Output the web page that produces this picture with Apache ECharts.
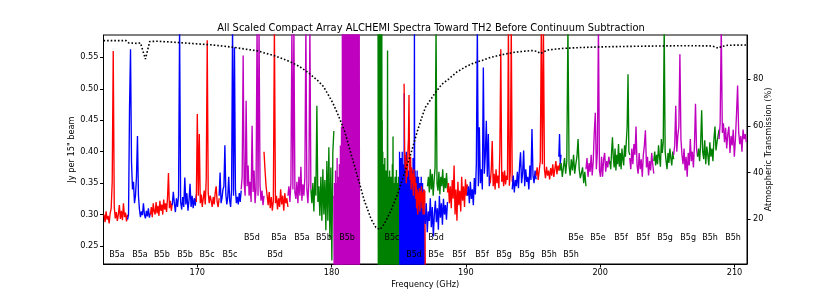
<!DOCTYPE html>
<html><head><meta charset="utf-8">
<script src="https://cdn.jsdelivr.net/npm/echarts@6/dist/echarts.min.js"></script>
<style>html,body{margin:0;padding:0;background:#fff}#c{width:830px;height:297px}</style>
</head><body><div id="c"></div>
<script>
// ---- spectral windows (Jy per beam), each sampled uniformly between its start/end frequency ----
const red1   = [0.300,0.288,0.305,0.292,0.298,0.286,0.302,0.310,0.352,0.560,0.312,0.294,0.304,0.290,0.300,0.315,0.293,0.306,0.291,0.318,0.296,0.303,0.289,0.300];
const blue2  = [0.292,0.300,0.470,0.563,0.383,0.340,0.352,0.318,0.330,0.360,0.425,0.330,0.308,0.296,0.305,0.299,0.318,0.300,0.294,0.306,0.297,0.310,0.295,0.302];
const red3   = [0.300,0.312,0.296,0.318,0.305,0.300,0.320,0.302,0.314,0.298,0.322,0.306,0.316,0.300,0.324,0.308,0.318,0.304,0.326,0.366,0.310,0.322,0.306,0.318];
const blue4  = [0.315,0.336,0.318,0.304,0.326,0.312,0.330,0.600,0.320,0.308,0.328,0.312,0.359,0.316,0.334,0.306,0.322,0.349,0.312,0.330,0.310,0.326,0.314,0.332];
const red5   = [0.320,0.460,0.330,0.428,0.318,0.332,0.312,0.326,0.338,0.316,0.356,0.577,0.334,0.318,0.330,0.322,0.312,0.328,0.316,0.334,0.345,0.320,0.312,0.326];
const blue6  = [0.330,0.367,0.318,0.326,0.340,0.345,0.410,0.332,0.316,0.328,0.360,0.322,0.312,0.340,0.600,0.330,0.566,0.340,0.318,0.328,0.316,0.334,0.320,0.338];
const mag7   = [0.340,0.360,0.553,0.350,0.330,0.481,0.345,0.378,0.330,0.352,0.320,0.441,0.336,0.370,0.318,0.340,0.600,0.330,0.600,0.346,0.322,0.338,0.315,0.330];
const red8   = [0.400,0.370,0.345,0.330,0.315,0.336,0.310,0.328,0.306,0.322,0.600,0.318,0.330,0.308,0.326,0.312,0.340,0.316,0.330,0.306,0.334,0.318,0.326,0.312];
const mag9   = [0.330,0.345,0.320,0.350,0.600,0.340,0.600,0.335,0.325,0.352,0.318,0.360,0.330,0.376,0.322,0.348,0.330,0.360,0.600,0.340,0.318,0.352,0.600,0.340];
const green10= [0.340,0.318,0.350,0.305,0.360,0.330,0.473,0.320,0.345,0.298,0.360,0.290,0.372,0.300,0.355,0.275,0.385,0.290,0.407,0.262,0.375,0.227,0.400,0.433];
const mag11a = [0.33,0.21,0.35,0.20,0.34,0.21,0.37,0.20,0.35,0.21,0.34,0.20,0.39,0.21,0.35,0.20,0.36,0.21,0.34,0.20,0.38,0.21,0.35,0.20,0.41,0.21,0.36,0.20,0.44,0.21,0.38,0.20];
const mag11b = [0.60,0.20,0.61,0.19,0.60,0.20,0.62,0.19,0.60,0.21,0.61,0.20,0.60,0.19,0.62,0.20,0.60,0.21,0.61,0.19,0.60,0.20,0.62,0.19,0.60,0.20,0.61,0.21,0.60,0.19,0.62,0.20,0.60,0.21,0.61,0.19,0.60,0.20,0.62,0.19,0.60,0.20,0.61,0.21,0.60,0.19,0.62,0.20,0.60,0.21,0.61,0.19,0.60,0.20,0.62,0.19,0.60,0.20,0.61,0.21,0.60,0.19,0.62,0.20,0.60,0.21];
const green13a=[0.60,0.20,0.61,0.19,0.60,0.21,0.62,0.20,0.60,0.19,0.61,0.20,0.60,0.21,0.62,0.20];
const green13b=[0.45,0.21,0.40,0.20,0.38,0.22,0.36,0.20,0.39,0.21,0.35,0.20,0.37,0.22,0.34,0.20,0.561,0.21,0.36,0.20,0.33,0.22,0.37,0.20,0.34,0.21,0.36,0.20,0.33,0.22,0.38,0.20,0.424,0.21,0.35,0.20,0.34,0.22,0.36,0.20,0.33,0.21,0.371,0.20,0.35,0.22,0.33,0.20,0.36,0.21,0.34,0.20];
const blue14a= [0.40,0.20,0.38,0.22,0.39,0.21,0.37,0.20,0.40,0.23,0.38,0.21,0.36,0.20,0.493,0.22,0.39,0.21,0.37,0.20,0.40,0.22,0.36,0.21,0.38,0.20,0.35,0.23,0.37,0.20,0.36,0.21,0.38,0.22,0.35,0.20,0.37,0.21,0.36,0.23,0.39,0.20,0.35,0.22,0.60,0.21,0.37,0.20,0.36,0.22,0.34,0.21,0.37,0.20,0.35,0.23,0.36,0.21,0.34,0.20,0.35,0.22,0.33,0.21,0.36,0.20,0.34,0.22,0.35,0.21,0.33,0.20,0.34,0.22];
const red14  = [0.508,0.400,0.372,0.395,0.350,0.385,0.360,0.400,0.420,0.490,0.380,0.355,0.392,0.340,0.375,0.350,0.365,0.330,0.372,0.345,0.360,0.325,0.350,0.310,0.340,0.300,0.335,0.315,0.342,0.305,0.338,0.320,0.345,0.310,0.335,0.300,0.340,0.320,0.338,0.200];
const blue14b= [0.300,0.285,0.318,0.272,0.305,0.290,0.326,0.280,0.312,0.265,0.300,0.322,0.288,0.310,0.276,0.330,0.295,0.318,0.284,0.325,0.300,0.315,0.292,0.320];
const green15= [0.345,0.360,0.335,0.372,0.340,0.365,0.330,0.355,0.375,0.600,0.350,0.338,0.368,0.332,0.360,0.345,0.372,0.336,0.358,0.342,0.366,0.340];
const red16  = [0.335,0.350,0.318,0.345,0.310,0.355,0.325,0.378,0.300,0.340,0.290,0.352,0.315,0.338,0.305,0.360,0.322,0.345,0.312,0.356,0.330,0.348];
const blue17 = [0.330,0.345,0.318,0.352,0.325,0.340,0.315,0.358,0.332,0.380,0.600,0.345,0.439,0.350,0.372,0.340,0.534,0.365,0.395,0.449,0.360,0.428,0.345,0.362];
const red18  = [0.350,0.372,0.417,0.345,0.365,0.340,0.372,0.350,0.362,0.342,0.400,0.563,0.352,0.368,0.345,0.370,0.348,0.362,0.355,0.600,0.346,0.368,0.600,0.352];
const blue19 = [0.340,0.362,0.335,0.355,0.345,0.368,0.342,0.375,0.399,0.350,0.365,0.402,0.345,0.372,0.352,0.360,0.340,0.378,0.355,0.436,0.362,0.350,0.370,0.356];
const red20  = [0.362,0.375,0.355,0.370,0.385,0.600,0.380,0.600,0.372,0.358,0.376,0.362,0.370,0.356,0.374,0.362,0.380,0.360,0.372,0.385,0.364,0.378,0.370,0.382];
const blue20b= [0.392,0.428,0.380,0.395];
const green21= [0.370,0.382,0.360,0.375,0.390,0.365,0.385,0.600,0.378,0.362,0.388,0.370,0.395,0.365,0.380,0.392,0.420,0.372,0.358,0.366,0.375,0.350,0.368,0.345];
const mag22  = [0.372,0.390,0.360,0.382,0.368,0.395,0.362,0.385,0.430,0.462,0.372,0.400,0.600,0.370,0.360,0.392,0.360,0.388,0.398,0.368,0.385,0.375,0.392,0.380];
const green23= [0.385,0.372,0.400,0.423,0.390,0.375,0.405,0.370,0.395,0.380,0.412,0.376,0.398,0.372,0.405,0.388,0.378,0.410,0.392,0.415,0.440,0.523,0.400,0.395];
const mag24  = [0.390,0.372,0.405,0.380,0.412,0.395,0.440,0.378,0.365,0.398,0.372,0.388,0.360,0.395,0.410,0.434,0.375,0.392,0.362,0.385,0.370,0.398,0.380,0.365];
const green25= [0.385,0.400,0.378,0.395,0.380,0.410,0.392,0.376,0.420,0.398,0.415,0.600,0.400,0.385,0.372,0.398,0.382,0.405,0.390,0.378,0.400,0.388];
const mag26  = [0.395,0.410,0.473,0.400,0.425,0.440,0.555,0.420,0.395,0.380,0.405,0.370,0.392,0.360,0.398,0.378,0.420,0.385,0.400,0.375,0.410,0.476,0.405,0.392];
const green27= [0.392,0.405,0.385,0.412,0.466,0.400,0.388,0.418,0.380,0.408,0.395,0.378,0.415,0.392,0.405,0.385,0.420,0.440,0.402,0.415,0.425,0.435];
const mag28  = [0.420,0.445,0.600,0.430,0.445,0.415,0.438,0.405,0.428,0.440,0.398,0.425,0.410,0.435,0.392,0.420,0.460,0.505,0.430,0.412,0.425,0.400,0.435,0.420,0.428,0.415];

// window list: [values, start GHz, end GHz, colour key] (drawing order)
const windows = [
  [red1,163.06,164.81,'r'],[blue2,164.81,166.51,'b'],[red3,166.51,168.14,'r'],[blue4,168.14,169.93,'b'],
  [red5,169.93,171.63,'r'],[blue6,171.63,173.27,'b'],[mag7,173.27,174.97,'m'],[red8,174.97,176.75,'r'],
  [mag9,176.75,178.46,'m'],[green10,178.46,180.17,'g'],[mag11a,180.17,180.80,'m'],[mag11b,180.80,182.08,'m'],
  [green13a,183.46,183.76,'g'],[green13b,183.76,185.06,'g'],[blue14a,185.06,186.90,'b'],[red14,185.40,186.98,'r'],
  [blue14b,186.90,188.63,'b'],[green15,187.14,188.63,'g'],[red16,188.63,190.11,'r'],[blue17,190.11,191.82,'b'],
  [red18,191.82,193.45,'r'],[blue19,193.45,195.23,'b'],[red20,195.23,197.01,'r'],[blue20b,196.92,197.08,'b'],
  [green21,197.01,198.94,'g'],[mag22,198.94,200.72,'m'],[green23,200.72,202.20,'g'],[mag24,202.20,203.99,'m'],
  [green25,203.99,205.47,'g'],[mag26,205.47,207.25,'m'],[green27,207.25,208.85,'g'],[mag28,208.85,210.88,'m']
];

// ---- atmospheric transmission (%) ----
const transFreq = [163.02,164.7,164.9,165.5,165.77,166.14,166.46,167.0,168.0,169.0,170.0,171.0,172.0,172.7,173.5,174.5,175.0,175.5,176.0,176.5,177.0,177.6,178.24,178.98,179.4,179.72,180.1,180.46,180.96,181.45,181.95,182.44,182.94,183.3,183.6,183.93,184.42,184.92,185.41,185.9,186.4,186.77,186.99,187.4,187.74,188.2,188.72,189.3,189.96,190.6,191.2,191.8,192.43,193.0,193.67,194.3,194.9,195.3,195.55,195.8,196.14,196.8,197.38,198.5,200.0,202.0,204.6,206.5,208.3,208.6,208.8,209.0,209.5,210.93];
const transPct  = [96.6,96.6,95.6,95.4,95.6,88.7,96.2,96.3,96.0,95.6,95.2,94.8,94.2,93.7,93.0,92.2,91.3,90.5,89.6,88.5,87.3,85.5,83.0,79.4,76.9,73.7,69.8,65.1,58.0,48.0,38.0,28.0,20.1,16.5,15.6,18.0,23.7,30.9,39.5,48.0,58.0,64.5,68.0,71.5,74.4,77.8,80.1,83.0,85.3,87.0,88.1,89.3,90.2,90.9,91.6,92.0,92.3,92.0,91.0,91.8,92.6,93.0,93.3,93.6,93.9,94.1,94.3,94.4,94.3,93.8,93.3,94.0,94.6,94.7];

// ---- band labels ----
const labelsRow1 = ['B5d','B5a','B5a','B5b','B5b','B5c','B5d','B5e','B5e','B5f','B5f','B5g','B5g','B5h','B5h'];
const freqRow1   = [174.07,176.08,177.80,179.43,181.15,184.50,187.78,198.20,199.84,201.55,203.19,204.83,206.55,208.18,209.89];
const labelsRow2 = ['B5a','B5a','B5b','B5b','B5c','B5c','B5d','B5d','B5e','B5f','B5f','B5g','B5g','B5h','B5h'];
const freqRow2   = [164.02,165.74,167.37,169.09,170.73,172.44,175.79,186.14,187.78,189.49,191.20,192.84,194.55,196.19,197.83];
const row1Level = 0.2625, row2Level = 0.2360;

// ---- axis ticks ----
const xTicks = [170,180,190,200,210];
const yTicks = [0.25,0.30,0.35,0.40,0.45,0.50,0.55];
const rTicks = [20,40,60,80];

const COLORS = {r:'#ff0000', b:'#0000ff', m:'#bf00bf', g:'#008000'};
const FONT = 'DejaVu Sans';

const series = windows.map(([vals,f0,f1,ck]) => ({
  type:'line', xAxisIndex:0, yAxisIndex:0, symbol:'none', silent:true, z:2,
  lineStyle:{color:COLORS[ck], width:1.35}, itemStyle:{color:COLORS[ck]},
  data: vals.map((v,i)=>[f0 + i*(f1-f0)/(vals.length-1), v])
}));
series.push({
  type:'line', yAxisIndex:1, symbol:'none', silent:true, z:5, smooth:false,
  lineStyle:{color:'#000', width:1.6, type:[1.6,2.0]},
  data: transFreq.map((f,i)=>[f, transPct[i]])
});
function labelSeries(names, freqs, level){
  return {type:'scatter', yAxisIndex:0, symbolSize:1, silent:true, z:10,
    itemStyle:{color:'#000', opacity:0},
    label:{show:true, position:'inside', formatter:p=>p.data[2], color:'#000', opacity:1, textBorderWidth:0, fontSize:8, fontFamily:FONT},
    data: names.map((n,i)=>[freqs[i], level, n])};
}
series.push(labelSeries(labelsRow1, freqRow1, row1Level));
series.push(labelSeries(labelsRow2, freqRow2, row2Level));

const axisCommon = {
  axisLine:{show:true, onZero:false, lineStyle:{color:'#000', width:1}},
  axisTick:{show:true, length:3.5, lineStyle:{color:'#000', width:1}},
  splitLine:{show:false},
  nameMoveOverlap:false,
  nameTextStyle:{color:'#000', fontSize:8.2, fontFamily:FONT},
};

const chart = echarts.init(document.getElementById('c'), null, {renderer:'canvas'});
chart.setOption({
  animation:false,
  backgroundColor:'#fff',
  title:{text:'All Scaled Compact Array ALCHEMI Spectra Toward TH2 Before Continuum Subtraction',
    left:426, top:18, textAlign:'center',
    textStyle:{fontSize:9.9, fontWeight:'normal', color:'#000', fontFamily:FONT}},
  grid:{left:103.5, right:83, top:35, bottom:33, show:true, borderColor:'#000', borderWidth:1, backgroundColor:'rgba(0,0,0,0)'},
  xAxis:Object.assign({}, axisCommon, {type:'value', min:163.02, max:210.93,
    name:'Frequency (GHz)', nameLocation:'middle', nameGap:17,
    axisTick:Object.assign({}, axisCommon.axisTick, {customValues:xTicks}),
    axisLabel:{customValues:xTicks, margin:5, color:'#000', fontSize:8.2, fontFamily:FONT, formatter:v=>String(v)}}),
  yAxis:[
    Object.assign({}, axisCommon, {type:'value', min:0.2214, max:0.5855, position:'left',
      name:'Jy per 15" beam', nameLocation:'middle', nameRotate:90, nameGap:28,
      axisTick:Object.assign({}, axisCommon.axisTick, {customValues:yTicks}),
      axisLabel:{customValues:yTicks, margin:5, color:'#000', fontSize:8.2, fontFamily:FONT, formatter:v=>v.toFixed(2)}}),
    Object.assign({}, axisCommon, {type:'value', min:0.83, max:98.99, position:'right',
      name:'Atmospheric Transmission (%)', nameLocation:'middle', nameRotate:90, nameGap:18,
      axisTick:Object.assign({}, axisCommon.axisTick, {customValues:rTicks}),
      axisLabel:{customValues:rTicks, margin:6, color:'#000', fontSize:8.2, fontFamily:FONT, formatter:v=>String(v)}})
  ],
  series: series
});
</script></body></html>
